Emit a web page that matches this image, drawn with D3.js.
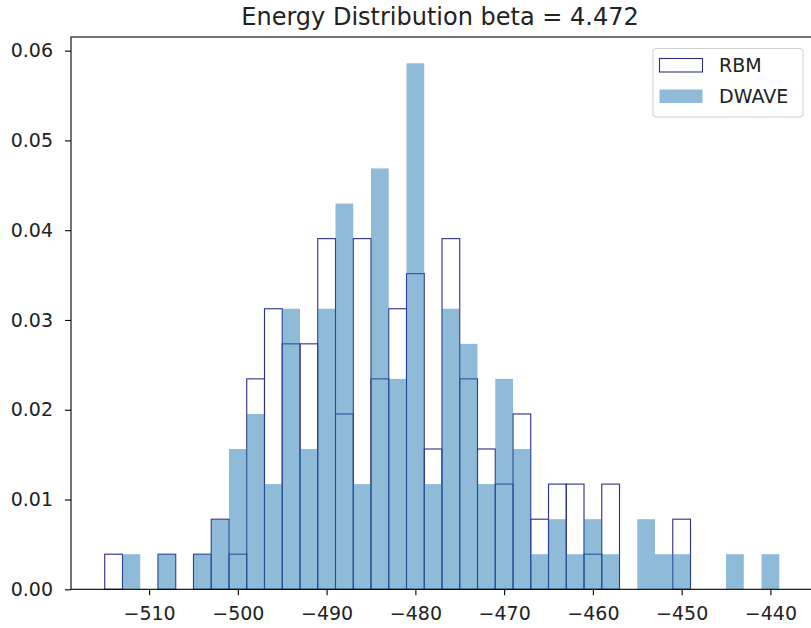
<!DOCTYPE html>
<html>
<head>
<meta charset="utf-8">
<script src="https://cdn.jsdelivr.net/npm/d3@7/dist/d3.min.js"></script>
<style>
  html, body { margin: 0; padding: 0; background: #fff; }
  svg { display: block; font-family: "DejaVu Sans", sans-serif; }
</style>
</head>
<body>
<svg id="chart" width="811" height="628"></svg>
<script>
// ---- data ----
const title = "Energy Distribution beta = 4.472";
const binWidth = 2;
const binStarts = [-515, -513, -511, -509, -507, -505, -503, -501, -499, -497,
                   -495, -493, -491, -489, -487, -485, -483, -481, -479, -477,
                   -475, -473, -471, -469, -467, -465, -463, -461, -459, -457,
                   -455, -453, -451, -449, -447, -445, -443, -441];
const rbmDensity = [0.00391, 0, 0, 0.00391, 0, 0.00391, 0.00781, 0.00391, 0.02344, 0.03125,
                    0.02734, 0.02734, 0.03906, 0.01953, 0.03906, 0.02344, 0.03125, 0.03516, 0.01563, 0.03906,
                    0.02344, 0.01563, 0.01172, 0.01953, 0.00781, 0.01172, 0.01172, 0.00391, 0.01172, 0,
                    0, 0, 0.00781, 0, 0, 0, 0, 0];
const dwaveDensity = [0, 0.00391, 0, 0.00391, 0, 0.00391, 0.00781, 0.01563, 0.01953, 0.01172,
                      0.03125, 0.01563, 0.03125, 0.04297, 0.01172, 0.04688, 0.02344, 0.05859, 0.01172, 0.03125,
                      0.02734, 0.01172, 0.02344, 0.01563, 0.00391, 0.00781, 0.00391, 0.00781, 0.00391, 0,
                      0.00781, 0.00391, 0.00391, 0, 0, 0.00391, 0, 0.00391];
const xTickValues = [-510, -500, -490, -480, -470, -460, -450, -440];
const yTickValues = [0.00, 0.01, 0.02, 0.03, 0.04, 0.05, 0.06];
const seriesNames = ["RBM", "DWAVE"];

// ---- layout ----
const L = 71, R = 813, T = 37, B = 589.3;
const svg = d3.select("#chart");

const x = d3.scaleLinear().domain([-518.8, -435.2]).range([L, R]);
const y = d3.scaleLinear().domain([0, 0.06152]).range([B, T]);

const rbmStroke = "#2e2e88";
const dwaveFill = "#1f77b4";

// RBM (unfilled bars)
svg.append("g").selectAll("rect")
  .data(binStarts.map((s, i) => ({s, v: rbmDensity[i]})).filter(d => d.v > 0))
  .join("rect")
  .attr("x", d => x(d.s))
  .attr("width", d => x(d.s + binWidth) - x(d.s))
  .attr("y", d => y(d.v))
  .attr("height", d => y(0) - y(d.v))
  .attr("fill", "none")
  .attr("stroke", rbmStroke)
  .attr("stroke-width", 1.1);

// DWAVE (filled, alpha 0.5) drawn on top
svg.append("g").selectAll("rect")
  .data(binStarts.map((s, i) => ({s, v: dwaveDensity[i]})).filter(d => d.v > 0))
  .join("rect")
  .attr("x", d => x(d.s))
  .attr("width", d => x(d.s + binWidth) - x(d.s))
  .attr("y", d => y(d.v))
  .attr("height", d => y(0) - y(d.v))
  .attr("fill", dwaveFill)
  .attr("fill-opacity", 0.5);

// axes
const fontSize = 19;
const xAxis = svg.append("g")
  .attr("transform", `translate(0,${B})`)
  .call(d3.axisBottom(x).tickValues(xTickValues).tickSize(6).tickPadding(11).tickFormat(d3.format("d")));
const yAxis = svg.append("g")
  .attr("transform", `translate(${L},0)`)
  .call(d3.axisLeft(y).tickValues(yTickValues).tickSize(6).tickPadding(12).tickFormat(d3.format(".2f")));
[xAxis, yAxis].forEach(g => {
  g.select(".domain").remove();
  g.selectAll(".tick line").attr("stroke", "#000").attr("stroke-width", 1.1);
  g.selectAll(".tick text").attr("fill", "#222").style("font-size", fontSize + "px")
    .style("font-family", "DejaVu Sans, sans-serif");
});

// frame (spines)
svg.append("rect")
  .attr("x", L).attr("y", T)
  .attr("width", R - L).attr("height", B - T)
  .attr("fill", "none").attr("stroke", "#000").attr("stroke-width", 1.1);

// title
svg.append("text")
  .attr("x", 440).attr("y", 25)
  .attr("text-anchor", "middle")
  .attr("fill", "#222")
  .style("font-size", "24px")
  .text(title);

// legend
const lg = svg.append("g");
lg.append("rect")
  .attr("x", 653).attr("y", 48.5).attr("width", 150).attr("height", 68.5)
  .attr("rx", 3).attr("fill", "#fff").attr("fill-opacity", 0.8)
  .attr("stroke", "#d0d0d0").attr("stroke-width", 1);
const legendItems = [
  {name: seriesNames[0], y: 58.5, fill: "#fff", fo: 1, stroke: rbmStroke},
  {name: seriesNames[1], y: 89.5, fill: dwaveFill, fo: 0.5, stroke: "none"}
];
legendItems.forEach(it => {
  lg.append("rect")
    .attr("x", 659.5).attr("y", it.y).attr("width", 43).attr("height", 13.5)
    .attr("fill", it.fill).attr("fill-opacity", it.fo)
    .attr("stroke", it.stroke).attr("stroke-width", 1.1);
  lg.append("text")
    .attr("x", 719).attr("y", it.y + 7)
    .attr("dy", "0.35em")
    .attr("fill", "#222")
    .style("font-size", fontSize + "px")
    .text(it.name);
});
</script>
</body>
</html>
